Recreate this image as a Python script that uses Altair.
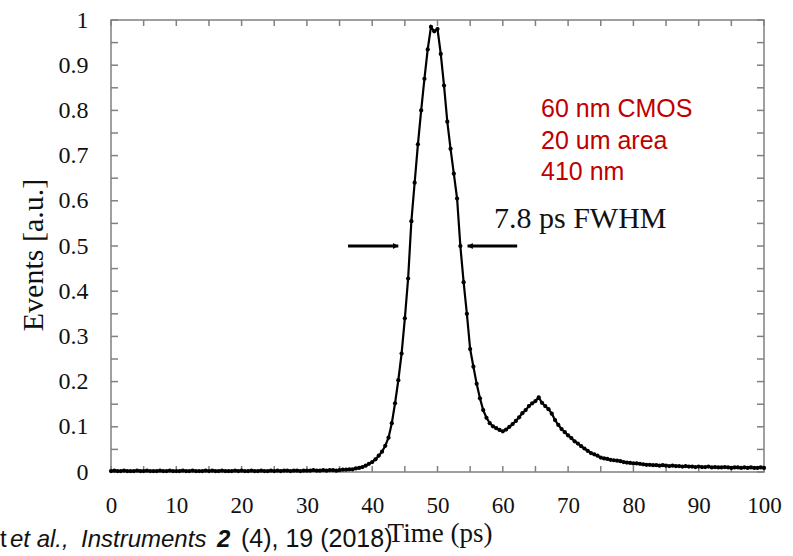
import altair as alt
import pandas as pd

# ---------------- data ----------------
time_ps = [i * 0.5 for i in range(201)]
events = [
    # 0.0 - 35.5
    0.002, 0.003, 0.002, 0.002, 0.003, 0.002, 0.002, 0.002, 0.003, 0.002,
    0.002, 0.003, 0.002, 0.002, 0.002, 0.003, 0.002, 0.002, 0.003, 0.002,
    0.002, 0.002, 0.003, 0.002, 0.002, 0.003, 0.002, 0.002, 0.002, 0.003,
    0.002, 0.003, 0.002, 0.002, 0.003, 0.002, 0.002, 0.002, 0.003, 0.002,
    0.003, 0.002, 0.002, 0.003, 0.002, 0.002, 0.003, 0.002, 0.002, 0.003,
    0.002, 0.003, 0.002, 0.003, 0.003, 0.002, 0.003, 0.003, 0.002, 0.003,
    0.003, 0.003, 0.004, 0.003, 0.003, 0.004, 0.003, 0.004, 0.004, 0.003,
    0.004, 0.005,
    # 36.0 - 39.5
    0.005, 0.006, 0.006, 0.008, 0.009, 0.011, 0.014, 0.018,
    # 40.0 - 43.5
    0.022, 0.028, 0.036, 0.045, 0.058, 0.076, 0.108, 0.152,
    # 44.0 - 47.5
    0.203, 0.262, 0.340, 0.428, 0.555, 0.640, 0.725, 0.800,
    # 48.0 - 51.5
    0.870, 0.935, 0.985, 0.975, 0.980, 0.925, 0.855, 0.775,
    # 52.0 - 55.5
    0.715, 0.660, 0.605, 0.500, 0.420, 0.350, 0.272, 0.233,
    # 56.0 - 59.5
    0.195, 0.163, 0.137, 0.120, 0.108, 0.101, 0.097, 0.093,
    # 60.0 - 63.5
    0.090, 0.094, 0.100, 0.106, 0.113, 0.121, 0.130, 0.137,
    # 64.0 - 67.5
    0.146, 0.152, 0.157, 0.165, 0.153, 0.146, 0.139, 0.129,
    # 68.0 - 71.5
    0.115, 0.104, 0.095, 0.088, 0.081, 0.075, 0.068, 0.063,
    # 72.0 - 75.5
    0.057, 0.052, 0.047, 0.042, 0.039, 0.036, 0.032, 0.030,
    # 76.0 - 79.5
    0.029, 0.027, 0.026, 0.025, 0.024, 0.022, 0.021, 0.020,
    # 80.0 - 83.5
    0.019, 0.019, 0.018, 0.017, 0.016, 0.016, 0.015, 0.015,
    # 84.0 - 87.5
    0.014, 0.015, 0.014, 0.013, 0.014, 0.013, 0.013, 0.012,
    # 88.0 - 91.5
    0.013, 0.012, 0.012, 0.011, 0.012, 0.011, 0.011, 0.012,
    # 92.0 - 95.5
    0.010, 0.011, 0.010, 0.010, 0.011, 0.010, 0.009, 0.010,
    # 96.0 - 99.5
    0.010, 0.009, 0.010, 0.009, 0.010, 0.009, 0.009, 0.010,
    # 100
    0.009,
]

x_label_values = [0, 10, 20, 30, 40, 50, 60, 70, 80, 90, 100]
x_tick_values = [i * 5 for i in range(21)]
y_label_values = [0, 0.1, 0.2, 0.3, 0.4, 0.5, 0.6, 0.7, 0.8, 0.9, 1]
y_tick_values = [i * 0.05 for i in range(21)]

# FWHM arrows (data coordinates)
arrow_left_x = [36.3, 44.0]
arrow_right_x = [62.2, 54.6]
arrow_y = 0.5

info_lines = ["60 nm CMOS", "20 um area", "410 nm"]
fwhm_text = "7.8 ps FWHM"

# ---------------- layout ----------------
W, H = 653, 452
PAD_L, PAD_T = 111, 20
GRAY = "#808080"
SERIF = "Liberation Serif"
SANS = "Liberation Sans"

xs = alt.Scale(domain=[0, 100], nice=False, zero=False)
ys = alt.Scale(domain=[0, 1], nice=False, zero=False)

df = pd.DataFrame({"t": time_ps, "v": events})

x_axis = alt.Axis(values=x_label_values, ticks=False, domain=False, grid=False,
                  labelFont=SERIF, labelFontSize=23, labelColor="#111",
                  labelPadding=22, format="d", title=None, labelFlush=False)
y_axis = alt.Axis(values=y_label_values, ticks=False, domain=False, grid=False,
                  labelFont=SERIF, labelFontSize=24, labelColor="#111",
                  labelPadding=23, format="~g", title=None, labelFlush=False)

line = alt.Chart(df).mark_line(color="black", strokeWidth=2.2).encode(
    x=alt.X("t:Q", scale=xs, axis=x_axis),
    y=alt.Y("v:Q", scale=ys, axis=y_axis),
)
pts = alt.Chart(df).mark_circle(color="black", size=18, opacity=1).encode(
    x=alt.X("t:Q", scale=xs),
    y=alt.Y("v:Q", scale=ys),
)

xt = pd.DataFrame({"x": x_tick_values})
yt = pd.DataFrame({"y": y_tick_values})
tick_style = dict(color=GRAY, strokeWidth=1.5)
bottom_ticks = alt.Chart(xt).mark_rule(**tick_style).encode(
    x=alt.X("x:Q", scale=xs), y=alt.value(H), y2=alt.value(H - 6))
top_ticks = alt.Chart(xt).mark_rule(**tick_style).encode(
    x=alt.X("x:Q", scale=xs), y=alt.value(0), y2=alt.value(6))
left_ticks = alt.Chart(yt).mark_rule(**tick_style).encode(
    y=alt.Y("y:Q", scale=ys), x=alt.value(0), x2=alt.value(7))
right_ticks = alt.Chart(yt).mark_rule(**tick_style).encode(
    y=alt.Y("y:Q", scale=ys), x=alt.value(W), x2=alt.value(W - 7))

# arrows
al = pd.DataFrame({"x": arrow_left_x, "y": [arrow_y, arrow_y]})
ar = pd.DataFrame({"x": arrow_right_x, "y": [arrow_y, arrow_y]})
arrow_l_line = alt.Chart(al).mark_line(color="black", strokeWidth=3).encode(
    x=alt.X("x:Q", scale=xs), y=alt.Y("y:Q", scale=ys))
arrow_r_line = alt.Chart(ar).mark_line(color="black", strokeWidth=3).encode(
    x=alt.X("x:Q", scale=xs), y=alt.Y("y:Q", scale=ys))
head_l = alt.Chart(pd.DataFrame({"x": [arrow_left_x[1]], "y": [arrow_y]})).mark_point(
    shape="M -1 -0.55 L 0 0 L -1 0.55 Z", filled=True, color="black", size=110, opacity=1
).encode(x=alt.X("x:Q", scale=xs), y=alt.Y("y:Q", scale=ys))
head_r = alt.Chart(pd.DataFrame({"x": [arrow_right_x[1]], "y": [arrow_y]})).mark_point(
    shape="M 1 -0.55 L 0 0 L 1 0.55 Z", filled=True, color="black", size=110, opacity=1
).encode(x=alt.X("x:Q", scale=xs), y=alt.Y("y:Q", scale=ys))


def label(text, px, py, **kw):
    """Text at absolute page pixel position (px, py)."""
    return alt.Chart(pd.DataFrame({"s": [text]})).mark_text(**kw).encode(
        text="s:N", x=alt.value(px - PAD_L), y=alt.value(py - PAD_T))


texts = [
    label(info_lines[0], 541, 117, font=SANS, fontSize=25, color="#c00000",
          align="left", baseline="alphabetic"),
    label(info_lines[1], 541, 149, font=SANS, fontSize=25, color="#c00000",
          align="left", baseline="alphabetic"),
    label(info_lines[2], 541, 180, font=SANS, fontSize=25, color="#c00000",
          align="left", baseline="alphabetic"),
    label(fwhm_text, 494, 228, font=SERIF, fontSize=30, color="#111",
          align="left", baseline="alphabetic"),
    # axis titles
    label("Events [a.u.]", 43, 255, font=SERIF, fontSize=30, color="#111",
          align="center", baseline="alphabetic", angle=270),
    label("Time (ps)", 440, 542, font=SERIF, fontSize=27, color="#111",
          align="center", baseline="alphabetic"),
    # citation
    label("t", 0, 547, font=SANS, fontSize=24, color="#111",
          align="left", baseline="alphabetic"),
    label("et al.,", 10, 547, font=SANS, fontSize=24, fontStyle="italic", color="#111",
          align="left", baseline="alphabetic"),
    label("Instruments", 81, 547, font=SANS, fontSize=24, fontStyle="italic", color="#111",
          align="left", baseline="alphabetic"),
    label("2", 217, 547, font=SANS, fontSize=24, fontStyle="italic", fontWeight="bold",
          color="#111", align="left", baseline="alphabetic"),
    label("(4), 19 (2018)", 241, 547, font=SANS, fontSize=25, color="#111",
          align="left", baseline="alphabetic"),
]

chart = alt.layer(
    bottom_ticks, top_ticks, left_ticks, right_ticks,
    line, pts,
    arrow_l_line, arrow_r_line, head_l, head_r,
    *texts,
).properties(
    width=W, height=H,
    autosize=alt.AutoSizeParams(type="none"),
    padding={"left": PAD_L, "top": PAD_T, "right": 793 - PAD_L - W, "bottom": 556 - PAD_T - H},
    background="white",
).configure_view(
    stroke=GRAY, strokeWidth=1.5
)

chart.save("out.html", embed_options={"renderer": "svg", "actions": False})
